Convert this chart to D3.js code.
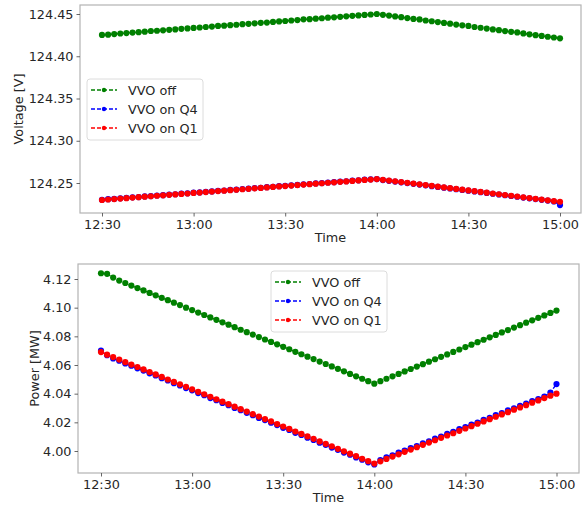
<!DOCTYPE html>
<html>
<head>
<meta charset="utf-8">
<script src="https://cdn.jsdelivr.net/npm/d3@7"></script>
<style>
  body { margin: 0; background: #fff; }
  svg { display: block; font-family: "DejaVu Sans", sans-serif; }
</style>
</head>
<body>
<div id="chart"></div>
<script>
// samples every 2 minutes, 12:30 -> 15:00
const startTime = new Date(2020, 0, 1, 12, 30);
const times = d3.range(76).map(i => d3.timeMinute.offset(startTime, 2 * i));

const voltOff = [124.4252,124.4255,124.4263,124.4269,124.4274,124.4280,124.4285,124.4291,124.4299,124.4302,
  124.4307,124.4313,124.4318,124.4324,124.4329,124.4335,124.4340,124.4346,124.4351,124.4359,
  124.4362,124.4368,124.4373,124.4379,124.4384,124.4390,124.4395,124.4399,124.4406,124.4412,
  124.4417,124.4423,124.4428,124.4437,124.4439,124.4445,124.4450,124.4456,124.4461,124.4467,
  124.4472,124.4478,124.4483,124.4489,124.4494,124.4500,124.4490,124.4481,124.4471,124.4462,
  124.4452,124.4442,124.4436,124.4423,124.4414,124.4404,124.4394,124.4385,124.4375,124.4366,
  124.4359,124.4346,124.4337,124.4327,124.4318,124.4308,124.4298,124.4289,124.4282,124.4270,
  124.4260,124.4250,124.4241,124.4231,124.4222,124.4212];
const voltQ4 = [124.2301,124.2308,124.2312,124.2319,124.2323,124.2330,124.2334,124.2341,124.2345,124.2352,
  124.2356,124.2363,124.2367,124.2374,124.2378,124.2385,124.2389,124.2396,124.2400,124.2407,
  124.2411,124.2418,124.2422,124.2429,124.2433,124.2440,124.2444,124.2451,124.2455,124.2462,
  124.2466,124.2473,124.2477,124.2484,124.2488,124.2495,124.2499,124.2506,124.2510,124.2517,
  124.2521,124.2528,124.2532,124.2539,124.2543,124.2547,124.2535,124.2526,124.2517,124.2508,
  124.2499,124.2490,124.2481,124.2472,124.2463,124.2454,124.2445,124.2436,124.2427,124.2418,
  124.2409,124.2400,124.2391,124.2382,124.2373,124.2364,124.2355,124.2346,124.2337,124.2328,
  124.2319,124.2310,124.2301,124.2292,124.2281,124.2239];
const voltQ1 = [124.2299,124.2305,124.2310,124.2316,124.2321,124.2327,124.2332,124.2338,124.2343,124.2349,
  124.2354,124.2360,124.2365,124.2371,124.2376,124.2382,124.2387,124.2393,124.2398,124.2404,
  124.2409,124.2415,124.2420,124.2426,124.2431,124.2437,124.2442,124.2448,124.2453,124.2459,
  124.2464,124.2470,124.2475,124.2481,124.2486,124.2492,124.2497,124.2503,124.2508,124.2514,
  124.2519,124.2525,124.2530,124.2536,124.2541,124.2547,124.2538,124.2529,124.2520,124.2511,
  124.2502,124.2493,124.2484,124.2475,124.2466,124.2457,124.2448,124.2439,124.2430,124.2421,
  124.2412,124.2403,124.2394,124.2385,124.2376,124.2367,124.2358,124.2349,124.2340,124.2331,
  124.2322,124.2313,124.2304,124.2295,124.2286,124.2278];

const powOff = [4.1240,4.1236,4.1210,4.1189,4.1172,4.1154,4.1137,4.1120,4.1103,4.1086,
  4.1069,4.1052,4.1035,4.1018,4.1000,4.0983,4.0966,4.0949,4.0932,4.0915,
  4.0898,4.0881,4.0864,4.0846,4.0829,4.0812,4.0795,4.0778,4.0761,4.0744,
  4.0727,4.0710,4.0692,4.0675,4.0658,4.0641,4.0624,4.0607,4.0590,4.0573,
  4.0556,4.0538,4.0521,4.0504,4.0487,4.0470,4.0487,4.0504,4.0521,4.0538,
  4.0555,4.0572,4.0589,4.0606,4.0623,4.0640,4.0657,4.0674,4.0691,4.0708,
  4.0725,4.0742,4.0759,4.0776,4.0793,4.0810,4.0827,4.0844,4.0861,4.0878,
  4.0895,4.0912,4.0929,4.0946,4.0963,4.0980];
const powQ4 = [4.0700,4.0668,4.0646,4.0630,4.0611,4.0595,4.0577,4.0561,4.0542,4.0527,
  4.0508,4.0492,4.0473,4.0457,4.0439,4.0423,4.0404,4.0389,4.0369,4.0354,
  4.0335,4.0320,4.0300,4.0285,4.0266,4.0250,4.0231,4.0216,4.0197,4.0181,
  4.0162,4.0147,4.0127,4.0112,4.0093,4.0077,4.0058,4.0043,4.0024,4.0008,
  3.9989,3.9974,3.9955,3.9939,3.9921,3.9906,3.9937,3.9955,3.9970,3.9988,
  4.0003,4.0021,4.0035,4.0054,4.0068,4.0086,4.0101,4.0119,4.0134,4.0152,
  4.0166,4.0185,4.0199,4.0217,4.0232,4.0250,4.0264,4.0283,4.0297,4.0315,
  4.0330,4.0348,4.0362,4.0380,4.0408,4.0467];
const powQ1 = [4.0690,4.0672,4.0655,4.0638,4.0620,4.0603,4.0586,4.0569,4.0551,4.0534,
  4.0517,4.0499,4.0482,4.0465,4.0448,4.0430,4.0413,4.0396,4.0378,4.0361,
  4.0344,4.0327,4.0309,4.0292,4.0275,4.0257,4.0240,4.0223,4.0206,4.0188,
  4.0171,4.0154,4.0136,4.0119,4.0102,4.0085,4.0067,4.0050,4.0033,4.0015,
  3.9998,3.9981,3.9964,3.9946,3.9929,3.9912,3.9928,3.9945,3.9961,3.9977,
  3.9994,4.0010,4.0026,4.0043,4.0059,4.0075,4.0092,4.0108,4.0124,4.0141,
  4.0157,4.0173,4.0190,4.0206,4.0222,4.0239,4.0255,4.0271,4.0288,4.0304,
  4.0320,4.0337,4.0353,4.0369,4.0386,4.0400];

const seriesNames = ['VVO off', 'VVO on Q4', 'VVO on Q1'];
const seriesColors = ['green', 'blue', 'red'];
const voltTicks = [124.25, 124.30, 124.35, 124.40, 124.45];
const powTicks = [4.00, 4.02, 4.04, 4.06, 4.08, 4.10, 4.12];
const timeTicks = ['12:30', '13:00', '13:30', '14:00', '14:30', '15:00'];

const width = 584, height = 508;
const parseHM = d3.timeParse('%H:%M');
const tickDates = timeTicks.map(t => { const p = parseHM(t); return new Date(2020, 0, 1, p.getHours(), p.getMinutes()); });

const svg = d3.select('#chart').append('svg')
  .attr('width', width).attr('height', height);

function drawPanel(cfg) {
  const { box, xRange, yDomain, yRange, ticks, fmt, series, ylabel, ylabelX, legend } = cfg;

  const x = d3.scaleTime().domain([tickDates[0], tickDates[tickDates.length - 1]]).range(xRange);
  const y = d3.scaleLinear().domain(yDomain).range(yRange);

  const g = svg.append('g');

  // frame
  g.append('rect')
    .attr('x', box.left).attr('y', box.top)
    .attr('width', box.right - box.left).attr('height', box.bottom - box.top)
    .attr('fill', 'none').attr('stroke', '#b3b3b3').attr('stroke-width', 1.2);

  const xAxis = g.append('g')
    .attr('transform', `translate(0,${box.bottom})`)
    .call(d3.axisBottom(x).tickValues(tickDates).tickFormat(d3.timeFormat('%H:%M')).tickSize(3.5).tickPadding(3));
  const yAxis = g.append('g')
    .attr('transform', `translate(${box.left},0)`)
    .call(d3.axisLeft(y).tickValues(ticks).tickFormat(fmt).tickSize(3.5).tickPadding(3));

  [xAxis, yAxis].forEach(a => {
    a.select('.domain').remove();
    a.selectAll('line').attr('stroke', '#555').attr('stroke-width', 0.9);
    a.selectAll('text').attr('fill', '#262626').style('font-size', '12.8px')
      .style('font-family', '"DejaVu Sans", sans-serif');
  });

  g.append('text')
    .attr('x', (box.left + box.right) / 2).attr('y', box.bottom + 29)
    .attr('text-anchor', 'middle').attr('fill', '#262626')
    .style('font-size', '12.8px').text('Time');

  g.append('text')
    .attr('transform', `translate(${ylabelX},${(box.top + box.bottom) / 2}) rotate(-90)`)
    .attr('text-anchor', 'middle').attr('fill', '#262626')
    .style('font-size', '12.8px').text(ylabel);

  const line = d3.line().x((d, i) => x(times[i])).y(d => y(d));

  series.forEach((vals, k) => {
    const sg = g.append('g');
    sg.append('path')
      .datum(vals)
      .attr('d', line)
      .attr('fill', 'none')
      .attr('stroke', seriesColors[k])
      .attr('stroke-width', 1.4)
      .attr('stroke-dasharray', '4,2');
    sg.selectAll('circle')
      .data(vals)
      .join('circle')
      .attr('cx', (d, i) => x(times[i]))
      .attr('cy', d => y(d))
      .attr('r', 3.1)
      .attr('fill', seriesColors[k]);
  });

  // legend
  const lg = g.append('g');
  lg.append('rect')
    .attr('x', legend.x).attr('y', legend.y)
    .attr('width', legend.w).attr('height', legend.h)
    .attr('rx', 3)
    .attr('fill', 'white').attr('fill-opacity', 0.85)
    .attr('stroke', '#dcdcdc').attr('stroke-width', 1);
  seriesNames.forEach((name, k) => {
    const cy = legend.y + 11 + k * 19;
    lg.append('line')
      .attr('x1', legend.x + 4).attr('x2', legend.x + 30)
      .attr('y1', cy).attr('y2', cy)
      .attr('stroke', seriesColors[k]).attr('stroke-width', 1.4)
      .attr('stroke-dasharray', '4,2');
    lg.append('circle')
      .attr('cx', legend.x + 17).attr('cy', cy).attr('r', 2.2)
      .attr('fill', seriesColors[k]);
    lg.append('text')
      .attr('x', legend.x + 41).attr('y', cy).attr('dy', '0.36em')
      .attr('fill', '#262626').style('font-size', '12.8px')
      .text(name);
  });
}

drawPanel({
  box: { left: 80, right: 581, top: 5, bottom: 213 },
  xRange: [102, 560],
  yDomain: [124.25, 124.45], yRange: [183, 14],
  ticks: voltTicks, fmt: d3.format('.2f'),
  series: [voltOff, voltQ4, voltQ1],
  ylabel: 'Voltage [V]', ylabelX: 23,
  legend: { x: 87, y: 79, w: 116, h: 61 }
});

drawPanel({
  box: { left: 78, right: 579, top: 264, bottom: 473 },
  xRange: [101, 556.5],
  yDomain: [4.00, 4.12], yRange: [451, 279],
  ticks: powTicks, fmt: d3.format('.2f'),
  series: [powOff, powQ4, powQ1],
  ylabel: 'Power [MW]', ylabelX: 39,
  legend: { x: 271, y: 271, w: 116, h: 61 }
});
</script>
</body>
</html>
